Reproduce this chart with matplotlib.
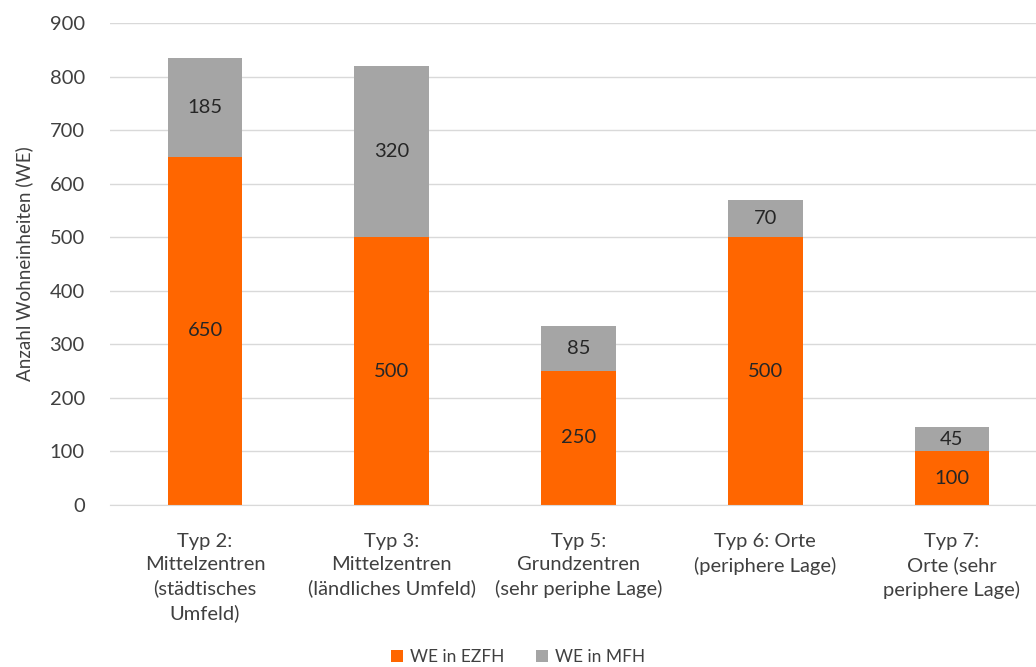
import numpy as np
import matplotlib.pyplot as plt

# data
categories = ["Typ 2:\nMittelzentren\n(städtisches\nUmfeld)",
              "Typ 3:\nMittelzentren\n(ländliches Umfeld)",
              "Typ 5:\nGrundzentren\n(sehr periphe Lage)",
              "Typ 6: Orte\n(periphere Lage)",
              "Typ 7:\nOrte (sehr\nperiphere Lage)"]
we_ezfh = [650, 500, 250, 500, 100]
we_mfh = [185, 320, 85, 70, 45]
yticks = [0, 100, 200, 300, 400, 500, 600, 700, 800, 900]

plt.rcParams['font.family'] = ['Lato', 'DejaVu Sans']

orange = '#FF6600'
grey = '#A5A5A5'
txt = '#404040'

fig = plt.figure(figsize=(10.36, 6.67), dpi=100)
ax = fig.add_axes([0.106, 0.243, 0.894, 0.7225])

x = np.arange(len(categories))
w = 0.4
b1 = ax.bar(x, we_ezfh, width=w, color=orange, label='WE in EZFH', zorder=2)
b2 = ax.bar(x, we_mfh, width=w, bottom=we_ezfh, color=grey, label='WE in MFH', zorder=2)

for i in range(len(x)):
    ax.text(x[i], we_ezfh[i] / 2, str(we_ezfh[i]), ha='center', va='center',
            fontsize=14.5, color='#262626')
    ax.text(x[i], we_ezfh[i] + we_mfh[i] / 2, str(we_mfh[i]), ha='center', va='center',
            fontsize=14.5, color='#262626')

ax.set_ylim(0, 900)
ax.set_xlim(-0.51, 4.45)
ax.set_yticks(yticks)
ax.yaxis.grid(True, color='#D9D9D9', linewidth=1, zorder=0)
ax.set_axisbelow(True)
for s in ['top', 'right', 'left']:
    ax.spines[s].set_visible(False)
ax.spines['bottom'].set_color('#D9D9D9')
ax.tick_params(axis='y', length=0, labelsize=14.5, labelcolor=txt, pad=18)
ax.tick_params(axis='x', length=0, labelsize=14.5, labelcolor=txt, pad=20)
ax.set_xticks(x)
ax.set_xticklabels(categories, linespacing=1.45)
ax.set_ylabel('Anzahl Wohneinheiten (WE)', fontsize=13.5, color=txt, labelpad=12)

fig.legend(handles=[b1, b2], loc='lower center', bbox_to_anchor=(0.5, -0.02), ncol=2,
           frameon=False, fontsize=12.5, handlelength=0.7, handleheight=0.7,
           handletextpad=0.4, columnspacing=1.8, labelcolor=txt)

fig.savefig('out.png', dpi=100)
